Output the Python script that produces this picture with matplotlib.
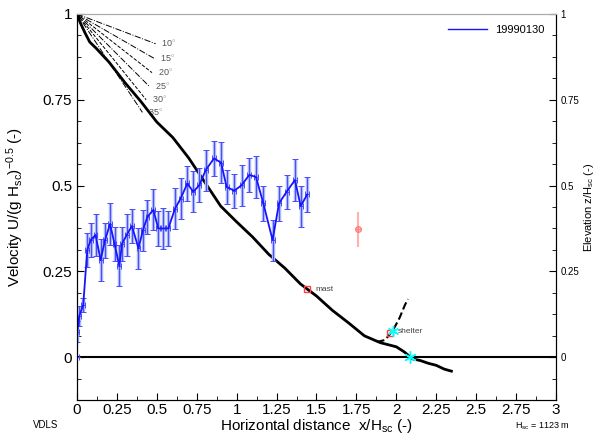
import numpy as np
import matplotlib
matplotlib.use('Agg')
import matplotlib.pyplot as plt
from matplotlib.ticker import MultipleLocator
from matplotlib.lines import Line2D

plt.rcParams['font.family'] = ['Liberation Sans', 'DejaVu Sans']
plt.rcParams['mathtext.fontset'] = 'custom'
plt.rcParams['mathtext.rm'] = 'Liberation Sans'
plt.rcParams['mathtext.it'] = 'Liberation Sans'

# terrain profile (x/Hsc, z/Hsc)
prof_x = [0, 0.02, 0.05, 0.08, 0.12, 0.2, 0.3, 0.4, 0.5, 0.6, 0.7, 0.8, 0.9, 1.0,
          1.1, 1.2, 1.3, 1.4, 1.5, 1.6, 1.7, 1.8, 1.9, 2.0, 2.05, 2.1, 2.15, 2.2,
          2.25, 2.3, 2.345]
prof_z = [1.0, 0.975, 0.945, 0.918, 0.9, 0.86, 0.8, 0.745, 0.685, 0.64, 0.58, 0.51,
          0.44, 0.394, 0.35, 0.3, 0.26, 0.213, 0.178, 0.136, 0.1, 0.062, 0.042, 0.03,
          0.015, -0.005, -0.01, -0.018, -0.024, -0.035, -0.041]

# dashed curve near the shelter
dash_x = [1.878, 1.93, 1.98, 2.02, 2.054, 2.073]
dash_z = [0.044, 0.05, 0.079, 0.114, 0.152, 0.169]

# velocity run 19990130
vel_x = [0, 0.002, 0.014, 0.039, 0.064, 0.086, 0.116, 0.148, 0.175, 0.207, 0.235,
         0.265, 0.282, 0.311, 0.344, 0.385, 0.413, 0.441, 0.478, 0.509, 0.539, 0.572,
         0.614, 0.649, 0.691, 0.728, 0.766, 0.806, 0.858, 0.902, 0.937, 0.985, 1.031,
         1.079, 1.121, 1.167, 1.225, 1.265, 1.313, 1.365, 1.401, 1.442]
vel_u = [0.0, 0.074, 0.12, 0.152, 0.312, 0.341, 0.356, 0.283, 0.34, 0.388, 0.33,
         0.266, 0.33, 0.356, 0.382, 0.317, 0.37, 0.409, 0.429, 0.375, 0.375, 0.375,
         0.433, 0.462, 0.506, 0.482, 0.501, 0.545, 0.579, 0.567, 0.496, 0.485, 0.501,
         0.531, 0.525, 0.448, 0.341, 0.448, 0.482, 0.516, 0.44, 0.474]
vel_err = [0.0, 0.03, 0.03, 0.02, 0.05, 0.05, 0.06, 0.06, 0.05, 0.06, 0.05,
           0.06, 0.05, 0.06, 0.05, 0.06, 0.06, 0.05, 0.06, 0.05, 0.06, 0.05,
           0.06, 0.06, 0.05, 0.06, 0.05, 0.06, 0.05, 0.06, 0.05, 0.05, 0.06,
           0.05, 0.06, 0.05, 0.06, 0.05, 0.05, 0.06, 0.06, 0.05]

angles = [10, 15, 20, 25, 30, 35]

mast = (1.44, 0.198)
shelter = (1.96, 0.07)
shelter_star = (1.98, 0.076)
zero_star = (2.085, 0.0)
red_pt = (1.76, 0.372)
red_err = 0.05

fig = plt.figure(figsize=(5.97, 4.37), dpi=100)
ax = fig.add_axes([0.129, 0.0847, 0.8023, 0.8833])

ax.axhline(0, color='black', lw=1.5, zorder=2)

# angle reference lines from the summit
styles = ['-.', '-.', '--', '-.', '--', '-.']
for a, ls in zip(angles, styles):
    r = 0.5
    ex = r * np.cos(np.radians(a))
    ey = 1 - r * np.sin(np.radians(a))
    ax.plot([0, ex], [1, ey], ls, color='black', lw=0.7, zorder=2)
    ax.text(ex + 0.035, ey, f'{a}$^{{\\circ}}$', fontsize=6.5, color='#555555',
            va='center', ha='left')

ax.plot(prof_x, prof_z, color='black', lw=2, zorder=3)
ax.plot(dash_x, dash_z, '--', color='black', lw=1.5, zorder=3)

# velocity with error bars
ax.errorbar(vel_x, vel_u, yerr=vel_err, fmt='none', ecolor='#a9b8f5', elinewidth=2.5,
            capsize=0, zorder=4)
ax.errorbar(vel_x, vel_u, yerr=vel_err, xerr=0.012, fmt='-', color='#1515ff', lw=1.3,
            ecolor='#4a4aff', elinewidth=0.7, capsize=2, capthick=0.7, zorder=5)

ax.errorbar([red_pt[0]], [red_pt[1]], yerr=red_err, fmt='o', mfc='none', mec='#ff8080',
            ms=4, ecolor='#ffb0b0', elinewidth=1.5, zorder=5)
ax.plot([red_pt[0]], [red_pt[1]], '+', color='#ff8080', ms=4, zorder=6)

asterisk = (6, 2, 0)
ax.plot(*mast, 's', mfc='none', mec='#ff4040', ms=4, zorder=6)
ax.text(mast[0] + 0.05, mast[1], 'mast', fontsize=6, color='#444444', va='center')
ax.plot(*shelter, 's', mfc='none', mec='#ff4040', ms=4, zorder=6)
ax.plot(*shelter_star, marker=asterisk, color='cyan', ms=8, mew=1, zorder=6)
ax.text(shelter[0] + 0.05, shelter[1] + 0.005, 'shelter', fontsize=6, color='#444444',
        va='center')
ax.plot(*zero_star, marker=asterisk, color='cyan', ms=9, mew=1, zorder=6)

ax.set_xlim(0, 3)
ax.set_ylim(-0.125, 1)
ax.xaxis.set_minor_locator(MultipleLocator(0.125))
ax.yaxis.set_minor_locator(MultipleLocator(0.0625))
ax.set_xticks([0, 0.25, 0.5, 0.75, 1, 1.25, 1.5, 1.75, 2, 2.25, 2.5, 2.75, 3])
ax.set_xticklabels(['0', '0.25', '0.5', '0.75', '1', '1.25', '1.5', '1.75', '2',
                    '2.25', '2.5', '2.75', '3'])
ax.set_yticks([0, 0.25, 0.5, 0.75, 1])
ax.set_yticklabels(['0', '0.25', '0.5', '0.75', '1'])
ax.tick_params(direction='in', which='both', labelsize=11, top=False)
ax.tick_params(axis='x', pad=2)
ax.tick_params(which='major', length=5)
ax.tick_params(which='minor', length=3)
ax.spines['top'].set_color('#aaaaaa')

ax.set_xlabel('Horizontal distance  x/H$_{\\mathregular{sc}}$ (-)', fontsize=11, labelpad=0)
ax.set_ylabel('Velocity U/(g H$_{\\mathregular{sc}}$)$^{\\mathregular{-0.5}}$ (-)',
              fontsize=11, labelpad=12)

handle = Line2D([], [], color='#1515ff', lw=1)
ax.legend([handle], ['19990130'], loc='upper right', frameon=False, fontsize=8,
          handlelength=3.5, borderaxespad=0.6)

ax2 = ax.twinx()
ax2.set_ylim(-0.125, 1)
ax2.set_yticks([0, 0.25, 0.5, 0.75, 1])
ax2.set_yticklabels(['0', '0.25', '0.5', '0.75', '1'])
ax2.yaxis.set_minor_locator(MultipleLocator(0.0625))
ax2.tick_params(direction='in', which='both', labelsize=7, pad=3)
ax2.tick_params(which='major', length=5)
ax2.tick_params(which='minor', length=3)
ax2.spines['top'].set_color('#aaaaaa')
ax2.set_ylabel('Elevation z/H$_{\\mathregular{sc}}$ (-)', fontsize=8, labelpad=2)

fig.text(33 / 597, 1 - 425 / 437, 'VDLS', fontsize=7, va='center')
fig.text(570 / 597, 1 - 426 / 437, 'H$_{\\mathregular{sc}}$ = 1123 m', fontsize=6.5,
         va='center', ha='right')

fig.savefig('out.png', dpi=100)
